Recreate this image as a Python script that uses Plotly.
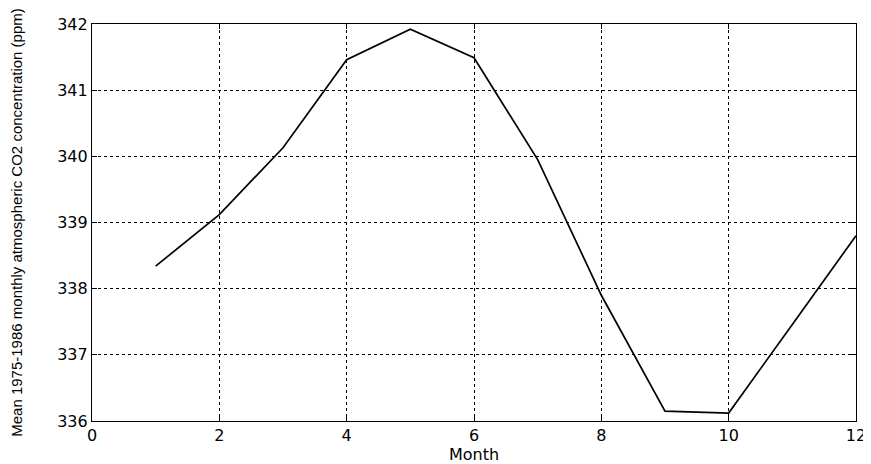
import plotly.graph_objects as go

months = [1, 2, 3, 4, 5, 6, 7, 8, 9, 10, 11, 12]
co2 = [338.34, 339.12, 340.13, 341.46, 341.92, 341.49, 339.95, 337.90, 336.15, 336.12, 337.46, 338.80]

tickfont = dict(family="DejaVu Sans", size=16, color="black")

fig = go.Figure()
fig.add_trace(go.Scatter(x=months, y=co2, mode="lines",
                         line=dict(color="black", width=1.7)))

axis_common = dict(showline=True, linecolor="black", linewidth=1.2, mirror="ticks",
                   showgrid=True, gridcolor="black", griddash="dot", gridwidth=1,
                   ticks="inside", ticklen=5, tickcolor="black", zeroline=False,
                   automargin=False, tickfont=tickfont, ticklabeloverflow="allow")

# page body adds an 8px offset; compensate in size/margins
fig.update_layout(
    width=863, height=456,
    margin=dict(l=84, r=15, t=16, b=43),
    paper_bgcolor="white", plot_bgcolor="white",
    showlegend=False,
    xaxis=dict(range=[0, 12], tickvals=[0, 2, 4, 6, 8, 10, 12],
               title=dict(text="Month", font=tickfont, standoff=0),
               **axis_common),
    yaxis=dict(range=[336, 342], tickvals=[336, 337, 338, 339, 340, 341, 342],
               title=dict(text="Mean 1975-1986 monthly atmospheric CO2 concentration (ppm)",
                          font=dict(family="Liberation Sans, Arial", size=15, color="black"), standoff=40),
               **axis_common),
)
fig.write_html("out.html")
